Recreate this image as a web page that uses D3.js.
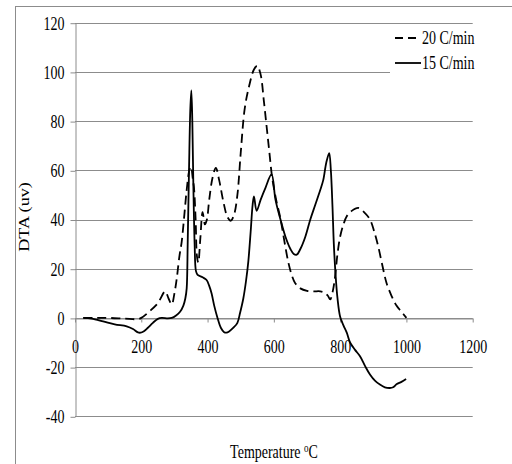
<!DOCTYPE html>
<html>
<head>
<meta charset="utf-8">
<script src="https://cdn.jsdelivr.net/npm/d3@7/dist/d3.min.js"></script>
<style>
  html, body { margin: 0; padding: 0; background: #fff; }
  svg { display: block; }
  text { font-family: "Liberation Serif", "Times New Roman", serif; fill: #000; }
</style>
</head>
<body>
<script>
// DTA curves recorded at two heating rates (temperature in °C, signal in uv)
const temp20 = [25, 60, 100, 150, 190, 200, 225, 250, 272, 282, 292, 300, 307, 315, 322, 330, 337, 345, 350, 355, 359, 364, 368, 372, 378, 385, 392, 398, 405, 415, 425, 435, 448, 460, 470, 480, 490, 500, 512, 525, 540, 550, 560, 570, 578, 586, 595, 607, 619, 632, 644, 655, 664, 680, 700, 720, 740, 754, 763, 770, 778, 785, 792, 800, 810, 820, 835, 855, 872, 890, 903, 915, 928, 940, 955, 970, 985, 1000];
const dta20 = [0, 0, 0, -0.3, -0.5, 0, 2.7, 6, 10.8, 8, 5.5, 10, 16, 25, 31, 42, 52, 60, 61.5, 57, 53, 40, 25, 22.5, 32, 43, 38, 40, 48, 57, 61, 56, 47, 41, 39.5, 42, 50, 67, 85, 94, 101, 102.5, 99, 88, 78, 68, 57, 48, 41, 31, 22.4, 17, 14.2, 12, 11, 10.8, 10.8, 10.2, 9, 7.5, 11, 17, 26, 33, 38, 41.3, 43.5, 44.7, 43, 40, 35, 29, 21, 14.2, 9, 5, 2.5, 0];

const temp15 = [25, 50, 85, 120, 156, 175, 190, 198, 208, 220, 235, 250, 262, 280, 292, 305, 317, 327, 333, 337, 340, 344, 348, 351, 354, 357, 361, 365, 370, 385, 397, 405, 412, 420, 430, 440, 450, 457, 465, 478, 490, 498, 508, 516, 523, 530, 536, 540, 548, 560, 575, 593, 605, 620, 635, 650, 660, 669, 680, 695, 710, 725, 740, 749, 758, 767, 772, 777, 781, 786, 792, 800, 810, 820, 830, 845, 860, 875, 890, 905, 920, 935, 950, 960, 970, 985, 999];
const dta15 = [0, -0.3, -1.4, -2.6, -3.4, -4.5, -5.9, -6, -5.4, -4, -2, -0.4, 0, -0.2, 0, 1, 2.5, 5, 8, 12, 30, 60, 85, 92.5, 80, 55, 30, 19, 17.5, 16.5, 15.4, 13, 10, 5, 0, -4, -5.8, -6, -5.5, -4, -2, 2, 8, 15, 23, 35, 46, 49.4, 43.5, 48, 53, 58.3, 48, 40, 33, 28, 26, 25.7, 28, 33, 40, 46, 52, 56, 63, 67, 60, 45, 30, 18, 8, 0.5, -3, -6, -10, -13, -15.6, -19.5, -23, -25.5, -27.1, -28.2, -28.5, -28.2, -27, -26, -24.8];

const seriesNames = ["20 C/min", "15 C/min"];
const xTicks = [0, 200, 400, 600, 800, 1000, 1200];
const yTicks = [-40, -20, 0, 20, 40, 60, 80, 100, 120];

const W = 512, H = 464;
const FS = 14;        // label font size
const SY = 1.3;       // vertical stretch of the lettering
const GRID = "#8c8c8c";
const plain = d => String(d);   // hyphen-minus, as in the printed labels

const svg = d3.select("body").append("svg").attr("width", W).attr("height", H);

// chart frame (runs off the right and bottom edges)
svg.append("rect")
  .attr("x", 15.5).attr("y", 6.5).attr("width", 530).attr("height", 480)
  .attr("fill", "#fff").attr("stroke", GRID).attr("stroke-width", 1);

const x = d3.scaleLinear().domain([0, 1200]).range([75, 472.7]);
const y = d3.scaleLinear().domain([-40, 120]).range([416.3, 22.7]);

// horizontal gridlines
svg.append("g")
  .selectAll("line")
  .data(yTicks)
  .join("line")
  .attr("x1", x(0)).attr("x2", x(1200))
  .attr("y1", d => Math.round(y(d)) + 0.5).attr("y2", d => Math.round(y(d)) + 0.5)
  .attr("stroke", GRID).attr("stroke-width", 1);

// y axis
const gy = svg.append("g")
  .attr("transform", `translate(${Math.round(x(0)) + 0.5},0)`)
  .call(d3.axisLeft(y).tickValues(yTicks).tickSize(5).tickSizeOuter(0).tickFormat(plain));
gy.select(".domain").attr("stroke", GRID);
gy.selectAll(".tick line").attr("stroke", GRID).attr("transform", "translate(0,0.5)");
gy.selectAll(".tick text")
  .attr("x", -11).attr("y", 0).attr("dy", 0)
  .attr("transform", `translate(0,${6.4}) scale(1,${SY})`)
  .style("font-size", FS + "px").style("font-family", "Liberation Serif").attr("fill", "#000");

// x axis along zero
const gx = svg.append("g")
  .attr("transform", `translate(0,${Math.round(y(0)) + 0.5})`)
  .call(d3.axisBottom(x).tickValues(xTicks).tickSize(4).tickSizeOuter(0).tickFormat(plain));
gx.select(".domain").attr("stroke", GRID);
gx.selectAll(".tick line").attr("stroke", GRID);
gx.selectAll(".tick text")
  .attr("y", 0).attr("dy", 0)
  .attr("transform", `translate(0,${34.2}) scale(1,${SY})`)
  .style("font-size", FS + "px").style("font-family", "Liberation Serif").attr("fill", "#000");

// curves
const line = d3.line().x(d => x(d[0])).y(d => y(d[1])).curve(d3.curveCatmullRom.alpha(0.5));
const pts20 = temp20.map((t, i) => [t, dta20[i]]);
const pts15 = temp15.map((t, i) => [t, dta15[i]]);

svg.append("path").datum(pts20)
  .attr("d", line).attr("fill", "none")
  .attr("stroke", "#000").attr("stroke-width", 1.8)
  .attr("stroke-dasharray", "9,5");

svg.append("path").datum(pts15)
  .attr("d", line).attr("fill", "none")
  .attr("stroke", "#000").attr("stroke-width", 1.8);

// legend
const lg = svg.append("g");
lg.append("rect").attr("x", 390).attr("y", 26).attr("width", 92).attr("height", 50).attr("fill", "#fff");
const legendRows = [
  { name: seriesNames[0], dash: "8,5", yc: 38 },
  { name: seriesNames[1], dash: null, yc: 63 }
];
legendRows.forEach(r => {
  lg.append("line")
    .attr("x1", 395).attr("x2", 421).attr("y1", r.yc).attr("y2", r.yc)
    .attr("stroke", "#000").attr("stroke-width", 1.8)
    .attr("stroke-dasharray", r.dash);
  lg.append("text")
    .attr("transform", `translate(422,${r.yc + 6.2}) scale(1,${SY})`)
    .style("font-size", FS + "px")
    .text(r.name);
});

// axis titles
svg.append("text")
  .attr("transform", `translate(29,217) scale(1,${SY}) rotate(-90)`)
  .attr("text-anchor", "middle")
  .style("font-size", FS + "px")
  .text("DTA (uv)");

const xt = svg.append("text")
  .attr("transform", `translate(274,458) scale(1,${SY})`)
  .attr("text-anchor", "middle")
  .style("font-size", FS + "px");
xt.append("tspan").text("Temperature ");
xt.append("tspan").attr("dy", -5).style("font-size", "9px").text("o");
xt.append("tspan").attr("dy", 5).text("C");
</script>
</body>
</html>
